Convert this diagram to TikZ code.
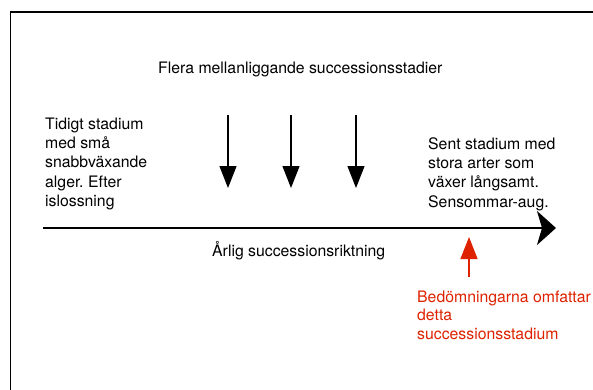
\documentclass[tikz,border=0pt]{standalone}
\usepackage{fontspec}
\setmainfont{TeX Gyre Heros}
\usetikzlibrary{arrows.meta}
\frenchspacing
\definecolor{mark}{RGB}{222,34,0}
\tikzset{
  txt/.style={anchor=base west, inner sep=0pt, align=left, font=\fontsize{15.8}{19.4}\selectfont},
  redtxt/.style={txt, text=mark, font=\fontsize{15.8}{18.5}\selectfont},
  downarrow/.style={draw=black, line width=1.3pt, -{Triangle[length=22pt,width=17pt]}},
  mainarrow/.style={draw=black, line width=2pt, -{Stealth[length=19pt,width=34pt,inset=5pt]}},
  redarrow/.style={draw=mark, line width=1.3pt, -{Triangle[length=22pt,width=17pt]}},
  frame/.style={draw=black, line width=1.6pt}
}
\begin{document}
\begin{tikzpicture}[x=1pt,y=-1pt]
\useasboundingbox (0,0) rectangle (593,389);
\draw[frame] (600,12) -- (10.3,12) -- (10.3,400);

% multi-line nodes: base anchor sits on the last line
\node[txt] (title) at (158,73.3) {Flera mellanliggande successionsstadier};
\node[txt] (early) at (45,206.7) {Tidigt stadium\\med små\\snabbväxande\\alger. Efter\\islossning};
\node[txt] (late) at (428,207.3) {Sent stadium med\\stora arter som\\växer långsamt.\\Sensommar-aug.};
\node[txt] (dir) at (212,256.7) {Årlig successionsriktning};
\node[redtxt] (assess) at (417,339.3) {Bedömningarna omfattar\\detta\\successionsstadium};

\coordinate (m0) at (43,228);
\coordinate (m1) at (556,228);
\draw[mainarrow] (m0) -- (m1);

\coordinate (a1s) at (228,115); \coordinate (a1e) at (228,188);
\coordinate (a2s) at (291,115); \coordinate (a2e) at (291,188);
\coordinate (a3s) at (356,115); \coordinate (a3e) at (356,188);
\draw[downarrow] (a1s) -- (a1e);
\draw[downarrow] (a2s) -- (a2e);
\draw[downarrow] (a3s) -- (a3e);

\coordinate (rs) at (469,277); \coordinate (re) at (469,237);
\draw[redarrow] (rs) -- (re);
\end{tikzpicture}
\end{document}
